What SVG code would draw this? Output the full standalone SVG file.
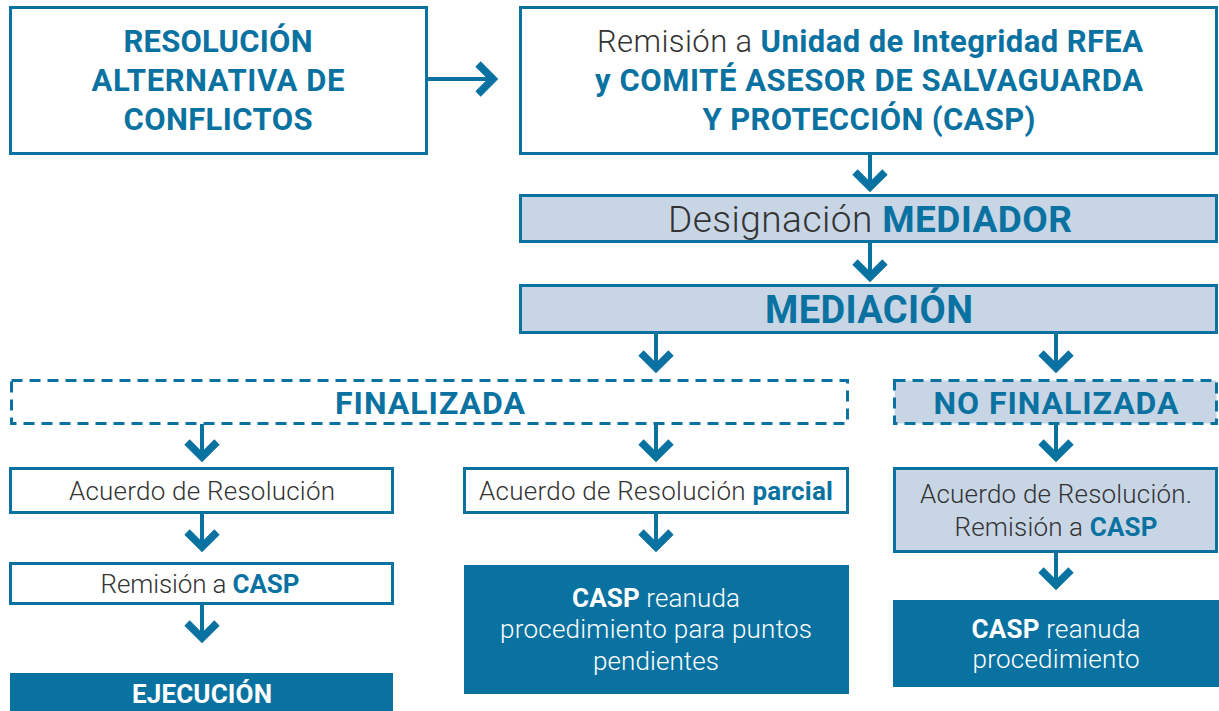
<svg xmlns="http://www.w3.org/2000/svg" width="1219" height="711" viewBox="0 0 1219 711">
<style>
.box{fill:#fff;stroke:#0a72a1;stroke-width:3}
.lt{fill:#c8d5e5;stroke:#0a72a1;stroke-width:3}
.dash{stroke-dasharray:11 7}
.dk{fill:#0a72a1}
.t{font-family:Roboto,"Liberation Sans",sans-serif;text-anchor:middle}
.l{font-weight:300;fill:#333}
.b{font-weight:700;fill:#0a72a1}
.wl{font-weight:300;fill:#fff}
.wb{font-weight:700;fill:#fff}
.con{fill:none;stroke:#0a72a1;stroke-width:4;marker-end:url(#chev)}
</style>
<defs>
<marker id="chev" markerUnits="userSpaceOnUse" markerWidth="50" markerHeight="50" viewBox="-25 -25 50 50" refX="0" refY="0" orient="auto">
<polyline points="-15,-15 0,0 -15,15" fill="none" stroke="#0a72a1" stroke-width="7.5" stroke-linejoin="miter" stroke-miterlimit="10"/>
</marker>
</defs>
<rect width="1219" height="711" fill="#fff"/>

<g id="n-resolucion">
<rect class="box" x="10.5" y="7.5" width="416" height="146"/>
<text class="t b" font-size="31" x="218" y="52" textLength="189" lengthAdjust="spacing">RESOLUCIÓN</text>
<text class="t b" font-size="31" x="218" y="91" textLength="253" lengthAdjust="spacing">ALTERNATIVA DE</text>
<text class="t b" font-size="31" x="218" y="130" textLength="189" lengthAdjust="spacing">CONFLICTOS</text>
</g>

<g id="n-remision">
<rect class="box" x="520.5" y="7.5" width="696" height="146"/>
<text class="t" font-size="31" x="870" y="52" textLength="546" lengthAdjust="spacing"><tspan class="l">Remisión a </tspan><tspan class="b">Unidad de Integridad RFEA</tspan></text>
<text class="t b" font-size="31" x="869" y="91" textLength="548" lengthAdjust="spacing">y COMITÉ ASESOR DE SALVAGUARDA</text>
<text class="t b" font-size="31" x="869" y="130" textLength="333" lengthAdjust="spacing">Y PROTECCIÓN (CASP)</text>
</g>

<g id="n-designacion">
<rect class="lt" x="520.5" y="195.5" width="696" height="46"/>
<text class="t" font-size="37" x="870" y="232" textLength="404" lengthAdjust="spacing"><tspan class="l">Designación </tspan><tspan class="b">MEDIADOR</tspan></text>
</g>

<g id="n-mediacion">
<rect class="lt" x="520.5" y="285.5" width="696" height="47"/>
<text class="t b" font-size="38" x="869" y="323" textLength="208" lengthAdjust="spacing">MEDIACIÓN</text>
</g>

<g id="n-finalizada">
<rect class="box dash" x="11.5" y="380.5" width="836" height="43"/>
<text class="t b" font-size="32" x="430" y="414" textLength="190" lengthAdjust="spacing">FINALIZADA</text>
</g>

<g id="n-nofinalizada">
<rect class="lt dash" x="894.5" y="380.5" width="322" height="43"/>
<text class="t b" font-size="32" x="1056" y="414" textLength="245" lengthAdjust="spacing">NO FINALIZADA</text>
</g>

<g id="n-acuerdo">
<rect class="box" x="10.5" y="468.5" width="382" height="44"/>
<text class="t l" font-size="26" x="202" y="500" textLength="266" lengthAdjust="spacing">Acuerdo de Resolución</text>
</g>

<g id="n-acuerdo-parcial">
<rect class="box" x="464.5" y="468.5" width="383" height="44"/>
<text class="t" font-size="26" x="656" y="500" textLength="354" lengthAdjust="spacing"><tspan class="l">Acuerdo de Resolución </tspan><tspan class="b">parcial</tspan></text>
</g>

<g id="n-acuerdo-no">
<rect class="lt" x="894.5" y="468.5" width="322" height="83"/>
<text class="t l" font-size="26" x="1056" y="503" textLength="272" lengthAdjust="spacing">Acuerdo de Resolución.</text>
<text class="t l" font-size="26" x="1056" y="536" textLength="203" lengthAdjust="spacing">Remisión a <tspan class="b">CASP</tspan></text>
</g>

<g id="n-remision-casp">
<rect class="box" x="10.5" y="563.5" width="382" height="40"/>
<text class="t" font-size="26" x="200" y="593" textLength="199" lengthAdjust="spacing"><tspan class="l">Remisión a </tspan><tspan class="b">CASP</tspan></text>
</g>

<g id="n-ejecucion">
<rect class="dk" x="10" y="673" width="383" height="40"/>
<text class="t wb" font-size="26" x="202" y="703" textLength="140" lengthAdjust="spacing">EJECUCIÓN</text>
</g>

<g id="n-casp-puntos">
<rect class="dk" x="464" y="565" width="385" height="129"/>
<text class="t wl" font-size="26" x="656" y="607" textLength="168" lengthAdjust="spacing"><tspan class="wb">CASP</tspan> reanuda</text>
<text class="t wl" font-size="26" x="656" y="638" textLength="312" lengthAdjust="spacing">procedimiento para puntos</text>
<text class="t wl" font-size="26" x="656" y="670" textLength="126" lengthAdjust="spacing">pendientes</text>
</g>

<g id="n-casp-proc">
<rect class="dk" x="893" y="600" width="326" height="87"/>
<text class="t wl" font-size="26" x="1056" y="638" textLength="169" lengthAdjust="spacing"><tspan class="wb">CASP</tspan> reanuda</text>
<text class="t wl" font-size="26" x="1056" y="668" textLength="167" lengthAdjust="spacing">procedimiento</text>
</g>

<g id="connectors">
<path class="con" d="M427 79 H493"/>
<path class="con" d="M870 154 V187"/>
<path class="con" d="M870 242 V277"/>
<path class="con" d="M656 334 V368"/>
<path class="con" d="M1056 334 V368"/>
<path class="con" d="M202 424 V457"/>
<path class="con" d="M656 424 V457"/>
<path class="con" d="M1056 424 V457"/>
<path class="con" d="M202 513 V547"/>
<path class="con" d="M656 513 V547"/>
<path class="con" d="M1056 552 V585"/>
<path class="con" d="M202 604 V638"/>
</g>
</svg>
